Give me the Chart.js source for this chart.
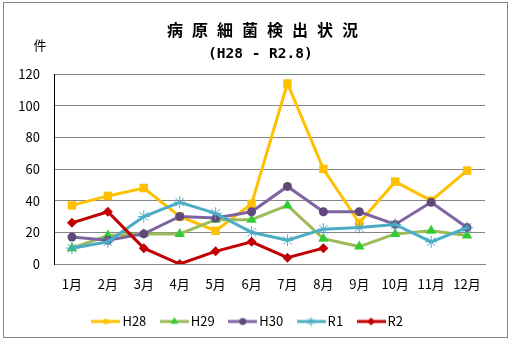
<!DOCTYPE html>
<html lang="ja">
<head>
<meta charset="utf-8">
<title>病原細菌検出状況</title>
<script src="https://cdn.jsdelivr.net/npm/chart.js@4/dist/chart.umd.min.js"></script>
<style>
  html, body { margin: 0; padding: 0; background: #fff; }
  canvas { display: block; }
</style>
</head>
<body>
<canvas id="chart" width="512" height="342"></canvas>
<script>
// 月ごとの検出件数
const months = ['1月', '2月', '3月', '4月', '5月', '6月', '7月', '8月', '9月', '10月', '11月', '12月'];
const h28 = [37, 43, 48, 30, 21, 38, 114, 60, 26, 52, 40, 59];
const h29 = [10, 18, 19, 19, 28, 28, 37, 16, 11, 19, 21, 18];
const h30 = [17, 15, 19, 30, 29, 33, 49, 33, 33, 25, 39, 23];
const r1 = [10, 14, 30, 39, 32, 20, 15, 22, 23, 25, 14, 23];
const r2 = [26, 33, 10, 0, 8, 14, 4, 10, null, null, null, null];
const yTicks = [0, 20, 40, 60, 80, 100, 120];

const titleText = '病原細菌検出状況';
const subtitleText = '(H28 - R2.8)';
const unitText = '件';

const FONT = '"Noto Sans CJK JP", "DejaVu Sans", sans-serif';

// 系列ごとの線・マーカー設定
const series = [
    { label: 'H28', data: h28, line: '#FFC000', fill: '#FFC000', style: 'rect', radius: 6, icon: 3.5 },
    { label: 'H29', data: h29, line: '#9BBB59', fill: '#33CC33', style: 'triangle', radius: 6, icon: 4.5 },
    { label: 'H30', data: h30, line: '#8064A2', fill: '#5F497A', style: 'circle', radius: 4.5, icon: 3.5 },
    { label: 'R1', data: r1, line: '#4BACC6', fill: '#4BACC6', style: 'star', radius: 6, icon: 4.5 },
    { label: 'R2', data: r2, line: '#C00000', fill: '#C00000', style: 'rectRot', radius: 5, icon: 4 }
];

// 凡例用の「線＋マーカー」アイコン
function legendIcon(s) {
    const c = document.createElement('canvas');
    c.width = 29;
    c.height = 10;
    const g = c.getContext('2d');
    g.strokeStyle = s.line;
    g.lineWidth = 3;
    g.beginPath();
    g.moveTo(0, 5);
    g.lineTo(29, 5);
    g.stroke();
    g.fillStyle = s.fill;
    g.strokeStyle = s.fill;
    g.lineWidth = 1;
    Chart.helpers.drawPoint(g, {
        pointStyle: s.style,
        radius: s.icon,
        borderWidth: s.style === 'star' ? 1 : 0,
        rotation: 0
    }, 14.5, 5);
    return c;
}

// 外枠・見出し・縦軸の単位
const framePlugin = {
    id: 'frame',
    beforeDraw(chart) {
        const ctx = chart.ctx;
        ctx.save();
        ctx.fillStyle = '#fff';
        ctx.fillRect(0, 0, chart.width, chart.height);
        ctx.strokeStyle = '#868686';
        ctx.lineWidth = 1;
        ctx.strokeRect(3.5, 2.5, chart.width - 8, chart.height - 7);
        ctx.restore();
    },
    afterDraw(chart) {
        const ctx = chart.ctx;
        const area = chart.chartArea;
        ctx.save();
        ctx.fillStyle = '#000';
        ctx.textBaseline = 'middle';

        ctx.textAlign = 'left';
        ctx.font = 'bold 16px ' + FONT;
        ctx.letterSpacing = '9px';
        ctx.fillText(titleText, 167, 30);

        ctx.letterSpacing = '0px';
        ctx.font = 'bold 14.5px "DejaVu Sans Mono", monospace';
        ctx.fillText(subtitleText, 208, 54);

        ctx.textAlign = 'center';
        ctx.font = '13px ' + FONT;
        ctx.fillText(unitText, area.left - 14, area.top - 29);
        ctx.restore();
    }
};

const datasets = series.map((s, i) => ({
    label: s.label,
    data: s.data,
    borderColor: s.line,
    backgroundColor: s.fill,
    borderWidth: 3,
    tension: 0,
    spanGaps: false,
    pointStyle: s.style,
    pointRadius: s.radius,
    pointBackgroundColor: s.fill,
    pointBorderColor: s.fill,
    pointBorderWidth: s.style === 'star' ? 1 : 0,
    order: series.length - i
}));

new Chart(document.getElementById('chart'), {
    type: 'line',
    data: { labels: months, datasets: datasets },
    plugins: [framePlugin],
    options: {
        responsive: false,
        animation: false,
        devicePixelRatio: 1,
        layout: {
            padding: { left: 14, right: 27, top: 74, bottom: 4 }
        },
        plugins: {
            title: { display: false },
            legend: {
                position: 'bottom',
                labels: {
                    usePointStyle: true,
                    pointStyleWidth: 20,
                    boxHeight: 10,
                    padding: 18,
                    color: '#000',
                    font: { family: FONT, size: 13 },
                    generateLabels() {
                        return series.map((s, i) => ({
                            text: s.label,
                            pointStyle: legendIcon(s),
                            fillStyle: s.fill,
                            strokeStyle: s.line,
                            lineWidth: 0,
                            hidden: false,
                            datasetIndex: i
                        }));
                    }
                }
            },
            tooltip: { enabled: false }
        },
        scales: {
            x: {
                offset: true,
                grid: { display: false, drawTicks: false },
                border: { color: '#868686', width: 1 },
                ticks: {
                    color: '#000',
                    padding: 12,
                    maxRotation: 0,
                    autoSkip: false,
                    font: { family: FONT, size: 13 }
                },
                afterFit(scale) {
                    scale.height = 33;
                }
            },
            y: {
                min: 0,
                max: 120,
                afterBuildTicks(scale) {
                    scale.ticks = yTicks.map(v => ({ value: v }));
                },
                afterFit(scale) {
                    scale.width = 40;
                },
                grid: { color: '#868686', lineWidth: 1, drawTicks: false },
                border: { color: '#000', width: 1 },
                ticks: {
                    color: '#000',
                    padding: 14,
                    font: { family: FONT, size: 13 }
                }
            }
        }
    }
});
</script>
</body>
</html>
